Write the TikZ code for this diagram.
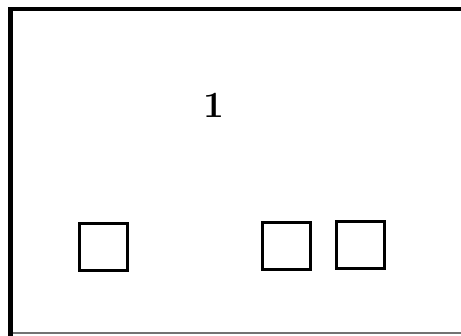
\documentclass[tikz,border=0pt]{standalone}
\begin{document}
\begin{tikzpicture}[x=1pt,y=1pt,
  boxsq/.style={draw=black,line width=3pt,minimum width=48pt,minimum height=47pt,inner sep=0pt,fill=white},
  frameline/.style={draw=black,line width=4.5pt}]
\useasboundingbox (0,0) rectangle (461,336);
\fill[white] (0,0) rectangle (461,336);
\coordinate (tl) at (10.5,327);
\coordinate (bl) at (10.5,2.5);
\coordinate (tr) at (470,327);
\coordinate (br) at (470,2.5);
\draw[black!55,line width=2pt] (bl) -- (br);
\draw[frameline,line cap=rect] (bl) -- (tl) -- (tr);
\node[anchor=base,font=\fontsize{37}{40}\selectfont\bfseries,inner sep=0pt] (one) at (214,218) {1};
\node[boxsq] (s1) at (103.5,88.5) {};
\node[boxsq] (s2) at (286,89.5) {};
\node[boxsq] (s3) at (360.5,90.5) {};
\end{tikzpicture}
\end{document}
